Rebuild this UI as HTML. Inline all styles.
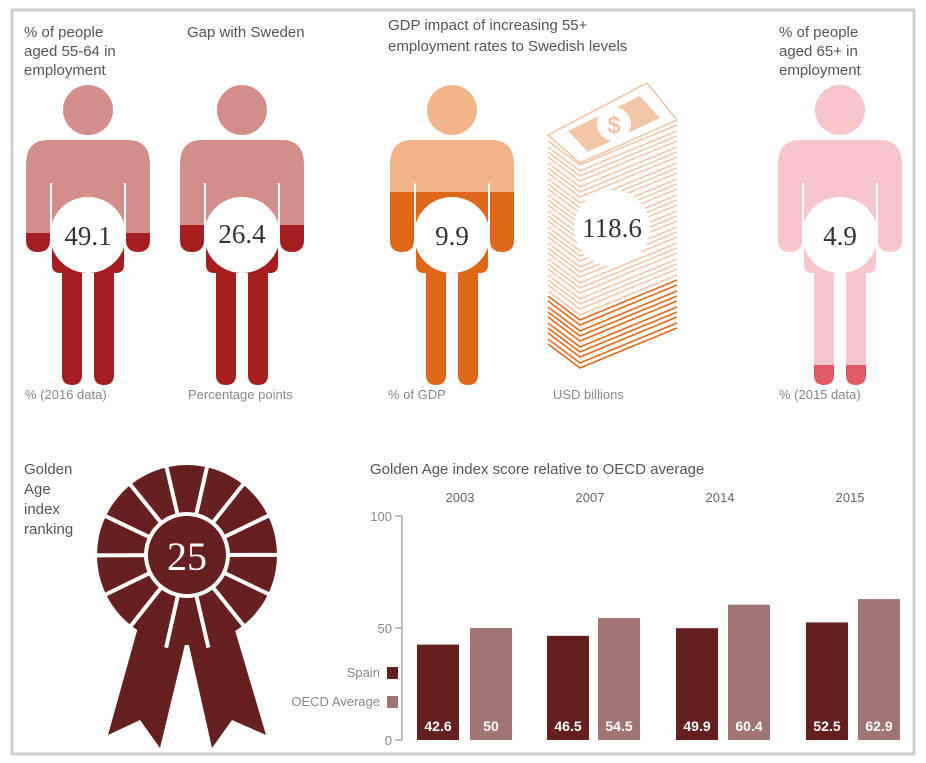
<!DOCTYPE html>
<html><head><meta charset="utf-8"><style>
body{margin:0;background:#fff;}
svg{display:block;font-family:"Liberation Sans",sans-serif;}
</style></head><body>
<svg width="926" height="763" viewBox="0 0 926 763">
<defs>
<g id="person">
<circle cx="0" cy="-125" r="25"/>
<path d="M-40,-95 H40 Q62,-95 62,-70 V5 Q62,17 50,17 Q38,17 38,5 V-52 H36 V30 Q36,38 28,38 H26 V140 Q26,150 16,150 Q6,150 6,140 V38 H-6 V140 Q-6,150 -16,150 Q-26,150 -26,140 V38 H-28 Q-36,38 -36,30 V-52 H-38 V5 Q-38,17 -50,17 Q-62,17 -62,5 V-70 Q-62,-95 -40,-95Z"/>
</g>
<clipPath id="top1"><rect x="-100" y="-200" width="200" height="198"/></clipPath>
<clipPath id="bot1"><rect x="-100" y="-2" width="200" height="200"/></clipPath>
<clipPath id="top2"><rect x="-100" y="-200" width="200" height="190"/></clipPath>
<clipPath id="bot2"><rect x="-100" y="-10" width="200" height="200"/></clipPath>
<clipPath id="top3"><rect x="-100" y="-200" width="200" height="157"/></clipPath>
<clipPath id="bot3"><rect x="-100" y="-43" width="200" height="250"/></clipPath>
<clipPath id="top4"><rect x="-100" y="-200" width="200" height="330"/></clipPath>
<clipPath id="bot4"><rect x="-100" y="130" width="200" height="100"/></clipPath>
</defs>
<rect x="12" y="10" width="902" height="744" fill="#fff" stroke="#cfcfcf" stroke-width="3"/>

<g font-size="15" fill="#555">
<text x="24" y="37">% of people</text><text x="24" y="56">aged 55-64 in</text><text x="24" y="75">employment</text>
<text x="187" y="37">Gap with Sweden</text>
<text x="388" y="30">GDP impact of increasing 55+</text><text x="388" y="51">employment rates to Swedish levels</text>
<text x="779" y="37">% of people</text><text x="779" y="56">aged 65+ in</text><text x="779" y="75">employment</text>
</g>
<g font-size="13" fill="#888">
<text x="25" y="399">% (2016 data)</text>
<text x="188" y="399">Percentage points</text>
<text x="388" y="399">% of GDP</text>
<text x="553" y="399">USD billions</text>
<text x="779" y="399">% (2015 data)</text>
</g>

<g transform="translate(88,235)">
<use href="#person" fill="#d38e8b" clip-path="url(#top1)"/>
<use href="#person" fill="#a51f20" clip-path="url(#bot1)"/>
<circle r="38" fill="#fff"/>
</g>
<g transform="translate(242,235)">
<use href="#person" fill="#d38e8b" clip-path="url(#top2)"/>
<use href="#person" fill="#a51f20" clip-path="url(#bot2)"/>
<circle r="38" fill="#fff"/>
</g>
<g transform="translate(452,235)">
<use href="#person" fill="#f1b388" clip-path="url(#top3)"/>
<use href="#person" fill="#e0681a" clip-path="url(#bot3)"/>
<circle r="38" fill="#fff"/>
</g>
<g transform="translate(840,235)">
<use href="#person" fill="#f6c6cc" clip-path="url(#top4)"/>
<use href="#person" fill="#e05a68" clip-path="url(#bot4)"/>
<circle r="38" fill="#fff"/>
</g>

<!-- money stack -->
<g fill="none" stroke-width="1.6">
<g stroke="#f3c6a8">
<path d="M548,141 L580,165 L677,125"/><path d="M548,147 L580,171 L677,131"/><path d="M548,152 L580,176 L677,136"/><path d="M548,157 L580,181 L677,141"/><path d="M548,163 L580,187 L677,147"/><path d="M548,168 L580,192 L677,152"/><path d="M548,173 L580,197 L677,157"/><path d="M548,179 L580,203 L677,163"/><path d="M548,184 L580,208 L677,168"/><path d="M548,189 L580,213 L677,173"/><path d="M548,195 L580,219 L677,179"/><path d="M548,200 L580,224 L677,184"/><path d="M548,205 L580,229 L677,189"/><path d="M548,211 L580,235 L677,195"/><path d="M548,216 L580,240 L677,200"/><path d="M548,221 L580,245 L677,205"/><path d="M548,227 L580,251 L677,211"/><path d="M548,232 L580,256 L677,216"/><path d="M548,237 L580,261 L677,221"/><path d="M548,243 L580,267 L677,227"/><path d="M548,248 L580,272 L677,232"/><path d="M548,253 L580,277 L677,237"/><path d="M548,259 L580,283 L677,243"/><path d="M548,264 L580,288 L677,248"/><path d="M548,269 L580,293 L677,253"/><path d="M548,275 L580,299 L677,259"/><path d="M548,280 L580,304 L677,264"/><path d="M548,285 L580,309 L677,269"/><path d="M548,291 L580,315 L677,275"/>
</g>
<g stroke="#e0681a">
<path d="M548,296 L580,320 L677,280"/><path d="M548,301 L580,325 L677,285"/><path d="M548,307 L580,331 L677,291"/><path d="M548,312 L580,336 L677,296"/><path d="M548,317 L580,341 L677,301"/><path d="M548,323 L580,347 L677,307"/><path d="M548,328 L580,352 L677,312"/><path d="M548,333 L580,357 L677,317"/><path d="M548,339 L580,363 L677,323"/><path d="M548,344 L580,368 L677,328"/>
</g>
<polygon points="548,135 647,83 677,120 580,163" fill="#fff" stroke="#f3c6a8"/>
</g>
<polygon points="568,131 640,96 660,118 588,152" fill="#f3c6a8"/>
<circle cx="614" cy="124" r="17" fill="#fff"/>
<text x="614" y="133" font-size="24" font-weight="bold" fill="#f3c6a8" text-anchor="middle">$</text>
<circle cx="612" cy="228" r="38" fill="#fff"/>

<g font-family="Liberation Serif,serif" font-size="27" fill="#333" text-anchor="middle">
<text x="88" y="245">49.1</text>
<text x="242" y="243">26.4</text>
<text x="452" y="245">9.9</text>
<text x="612" y="237">118.6</text>
<text x="840" y="245">4.9</text>
</g>

<!-- rosette -->
<g fill="#66201f">
<polygon points="140,620 188,632 160,748 140,720 108,735"/>
<polygon points="232,620 186,632 212,748 232,720 266,735"/>
</g>
<polygon points="140,620 188,632 160,748 140,720 108,735" fill="none" stroke="#fff" stroke-width="0"/>
<line x1="187" y1="630" x2="187" y2="748" stroke="#fff" stroke-width="3"/>
<circle cx="187" cy="555" r="90" fill="#66201f"/>
<g stroke="#fff" stroke-width="4">
<line x1="187" y1="555" x2="187" y2="460" transform="rotate(12.8 187 555)"/>
<line x1="187" y1="555" x2="187" y2="460" transform="rotate(38.5 187 555)"/>
<line x1="187" y1="555" x2="187" y2="460" transform="rotate(64.2 187 555)"/>
<line x1="187" y1="555" x2="187" y2="460" transform="rotate(89.9 187 555)"/>
<line x1="187" y1="555" x2="187" y2="460" transform="rotate(115.6 187 555)"/>
<line x1="187" y1="555" x2="187" y2="460" transform="rotate(141.3 187 555)"/>
<line x1="187" y1="555" x2="187" y2="460" transform="rotate(167 187 555)"/>
<line x1="187" y1="555" x2="187" y2="460" transform="rotate(192.7 187 555)"/>
<line x1="187" y1="555" x2="187" y2="460" transform="rotate(218.4 187 555)"/>
<line x1="187" y1="555" x2="187" y2="460" transform="rotate(244.1 187 555)"/>
<line x1="187" y1="555" x2="187" y2="460" transform="rotate(269.8 187 555)"/>
<line x1="187" y1="555" x2="187" y2="460" transform="rotate(295.5 187 555)"/>
<line x1="187" y1="555" x2="187" y2="460" transform="rotate(321.2 187 555)"/>
<line x1="187" y1="555" x2="187" y2="460" transform="rotate(346.9 187 555)"/>
</g>
<circle cx="187" cy="555" r="43" fill="#fff"/>
<circle cx="187" cy="555" r="39" fill="#66201f"/>
<text x="187" y="570" font-family="Liberation Serif,serif" font-size="40" fill="#fff" text-anchor="middle">25</text>
<g font-size="15" fill="#555">
<text x="24" y="474">Golden</text><text x="24" y="494">Age</text><text x="24" y="514">index</text><text x="24" y="534">ranking</text>
</g>

<!-- bar chart -->
<text x="370" y="474" font-size="15" fill="#555">Golden Age index score relative to OECD average</text>
<g font-size="13" fill="#666" text-anchor="middle">
<text x="460" y="502">2003</text><text x="590" y="502">2007</text><text x="720" y="502">2014</text><text x="850" y="502">2015</text>
</g>
<g stroke="#aaa" stroke-width="1.5">
<line x1="402" y1="516" x2="402" y2="740"/>
<line x1="395" y1="516" x2="402" y2="516"/><line x1="395" y1="628" x2="402" y2="628"/><line x1="395" y1="740" x2="402" y2="740"/>
</g>
<g font-size="13" fill="#888" text-anchor="end">
<text x="392" y="521">100</text><text x="392" y="633">50</text><text x="392" y="745">0</text>
<text x="380" y="677">Spain</text><text x="380" y="706">OECD Average</text>
</g>
<rect x="387" y="667" width="11" height="12" fill="#63201f"/>
<rect x="387" y="696" width="11" height="12" fill="#a07573"/>
<g fill="#63201f">
<rect x="417" y="644.6" width="42" height="95.4"/>
<rect x="547" y="635.8" width="42" height="104.2"/>
<rect x="676" y="628.2" width="42" height="111.8"/>
<rect x="806" y="622.4" width="42" height="117.6"/>
</g>
<g fill="#a07573">
<rect x="470" y="628" width="42" height="112"/>
<rect x="598" y="617.9" width="42" height="122.1"/>
<rect x="728" y="604.7" width="42" height="135.3"/>
<rect x="858" y="599.1" width="42" height="140.9"/>
</g>
<g font-size="14" font-weight="bold" fill="#fff" text-anchor="middle">
<text x="438" y="731">42.6</text><text x="491" y="731">50</text>
<text x="568" y="731">46.5</text><text x="619" y="731">54.5</text>
<text x="697" y="731">49.9</text><text x="749" y="731">60.4</text>
<text x="827" y="731">52.5</text><text x="879" y="731">62.9</text>
</g>
</svg>
</body></html>
